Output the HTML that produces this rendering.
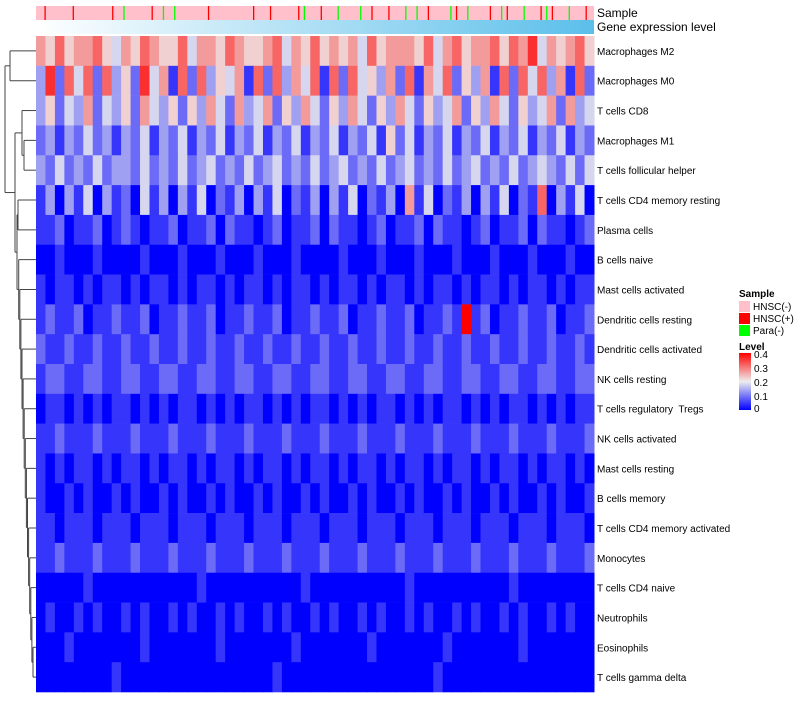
<!DOCTYPE html>
<html><head><meta charset="utf-8"><style>
body{margin:0;background:#fff;font-family:"Liberation Sans",sans-serif}
svg text{font-family:"Liberation Sans",sans-serif;white-space:pre}
</style></head><body>
<svg id="chart" width="800" height="700" xmlns="http://www.w3.org/2000/svg">
<defs>
<linearGradient id="geneGrad" x1="0" x2="1" y1="0" y2="0"><stop offset="0" stop-color="#ffffff"/><stop offset="1" stop-color="#5bbfea"/></linearGradient>
<linearGradient id="levelGrad" x1="0" x2="0" y1="1" y2="0"><stop offset="0" stop-color="#0000ff"/><stop offset="0.5" stop-color="#eeeeee"/><stop offset="1" stop-color="#ff0000"/></linearGradient>
</defs>
<g id="cells"></g>
<g id="sample"></g>
<rect x="36" y="20" width="558" height="14" fill="url(#geneGrad)"/>
<text x="597" y="17" font-size="12">Sample</text>
<text x="597" y="31" font-size="12">Gene expression level</text>
<g id="labels"></g>
<g id="dendro" stroke="#444" stroke-width="1" fill="none"></g>
<g font-size="10">
<text x="739" y="297" font-weight="bold">Sample</text>
<rect x="739" y="301" width="11" height="11" fill="#ffc0cb"/>
<text x="753" y="310">HNSC(-)</text>
<rect x="739" y="313" width="11" height="11" fill="#ff0000"/>
<text x="753" y="322">HNSC(+)</text>
<rect x="739" y="325" width="11" height="11" fill="#00ff00"/>
<text x="753" y="334">Para(-)</text>
<text x="739" y="350" font-weight="bold">Level</text>
<rect x="739" y="353" width="12" height="57" fill="url(#levelGrad)"/>
<text x="754" y="358">0.4</text><text x="754" y="372">0.3</text><text x="754" y="386">0.2</text><text x="754" y="400">0.1</text><text x="754" y="412">0</text>
</g>
</svg>
<script>
const rowNames=["Macrophages M2","Macrophages M0","T cells CD8","Macrophages M1","T cells follicular helper","T cells CD4 memory resting","Plasma cells","B cells naive","Mast cells activated","Dendritic cells resting","Dendritic cells activated","NK cells resting","T cells regulatory  Tregs","NK cells activated","Mast cells resting","B cells memory","T cells CD4 memory activated","Monocytes","T cells CD4 naive","Neutrophils","Eosinophils","T cells gamma delta"];
const rowLevels=[
"65756675465765574665765567465756564756665746756675768465675",
"38274727352846172735461727364717274536271647253617274736172",
"35243624352643525364263462536425364253642534625364253462634",
"23132423132413241324132413241324132415241324132413241324132",
"32423242332423242342324234232423423242342324234232423432424",
"13031403120413031402130314021303140213061402130314021703140",
"11201120121011201120211012011202110120112021101201120211012",
"00100010000100010001000100010000100010001000100010001000100",
"10110101101011010110101101011010110101101011010110101101011",
"12112011211201121120112112011211201121120112191201121120112",
"21121121121121121121121121121121121121121121121121121121121",
"12211221122112211221122112211221122112211221122112211221122",
"01101010110101011010101101010110101011010101101010110101011",
"11211121112111211121112111211121112111211121112111211121112",
"10101101011010110101101011010110101101011010110101101011010",
"10010100101001010010100101001010010100101001010010100101001",
"11011101110111011101110111011101110111011101110111011101110",
"11211121112111211121112111211121112111211121112111211121112",
"00000100000000000100000000001000000000010000000000100000000",
"01001010010100101001010010100101001010010100101001010010100",
"00010000000100000001000000010000000100000001000000010000000",
"00000000100000000000000001000000000000000010000000000000000"];
const sampleCodes="prpppprpppppprpgpppprpgpgppppprppppppprpprpppprgpprppgpppgprpprppgpgprpppgrpgppprpgrppgpprgrppgpprp";
const NS="http://www.w3.org/2000/svg";
const X0=36,X1=594,Y0=36,Y1=692,nR=rowNames.length,rh=(Y1-Y0)/nR;
function xs(i,n){return X0+(X1-X0)*i/n;}
function ys(r){return Y0+rh*r;}
function col(v){v=Math.max(0,Math.min(0.4,v));let r,g,b;
 if(v<0.2){const t=v/0.2;r=238*t;g=238*t;b=255-17*t;}else{const t=(v-0.2)/0.2;r=238+17*t;g=238*(1-t);b=238*(1-t);}
 return `rgb(${r|0},${g|0},${b|0})`;}
const cells=document.getElementById('cells');
rowLevels.forEach((s,r)=>{const n=s.length;for(let i=0;i<n;i++){const e=document.createElementNS(NS,'rect');


e.setAttribute('x',xs(i,n));e.setAttribute('y',ys(r));e.setAttribute('width',(X1-X0)/n+0.5);e.setAttribute('height',rh+0.3);e.setAttribute('fill',col(+s[i]*0.045));cells.appendChild(e);}});
const sg=document.getElementById('sample');
const bg=document.createElementNS(NS,'rect');


bg.setAttribute('x',X0);bg.setAttribute('y',6);bg.setAttribute('width',X1-X0);bg.setAttribute('height',14);bg.setAttribute('fill','#ffc0cb');sg.appendChild(bg);
for(let i=0;i<sampleCodes.length;i++){const c=sampleCodes[i];if(c==='p')continue;const e=document.createElementNS(NS,'rect');


e.setAttribute('x',xs(i+0.5,sampleCodes.length));e.setAttribute('y',6);e.setAttribute('width',1.3);e.setAttribute('height',14);e.setAttribute('fill',c==='r'?'#ff0000':'#00ff00');sg.appendChild(e);}
const lg=document.getElementById('labels');
rowNames.forEach((n,r)=>{const t=document.createElementNS(NS,'text');


t.setAttribute('x',597);t.setAttribute('y',ys(r)+rh/2+4);t.setAttribute('font-size','10');t.setAttribute('xml:space','preserve');t.textContent=n;lg.appendChild(t);});
let ladder=[33,20,21];
for(let k=19;k>=7;k--)ladder=[33-(19-k+1)*1.1,k,ladder];
const tree=[5,[5,[10,0,1],[15,[22,2,[24,3,4]],[17,[18,5,6],ladder]]],null];
const dg=document.getElementById('dendro');
function line(x1,y1,x2,y2){const l=document.createElementNS(NS,'line');l.setAttribute('x1',x1);l.setAttribute('y1',y1);l.setAttribute('x2',x2);l.setAttribute('y2',y2);dg.appendChild(l);}
function draw(n){if(typeof n==='number')return{x:X0,y:ys(n)+rh/2};const a=draw(n[1]),b=draw(n[2]);const x=n[0];
line(x,a.y,a.x,a.y);line(x,b.y,b.x,b.y);line(x,a.y,x,b.y);return{x:x,y:(a.y+b.y)/2};}
draw(tree[1]);
</script>
</body></html>
